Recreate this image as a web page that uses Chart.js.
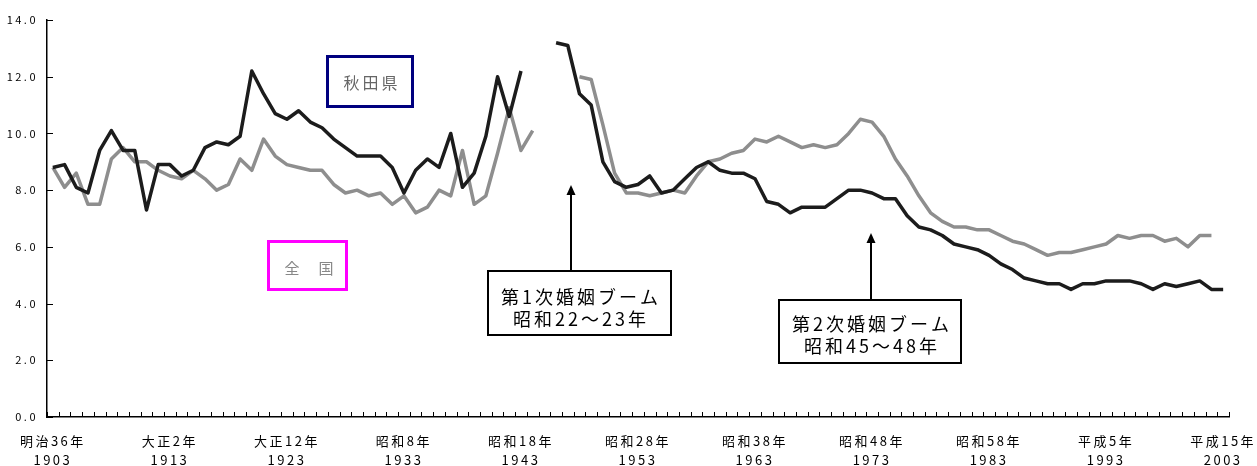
<!DOCTYPE html>
<html lang="ja">
<head>
<meta charset="utf-8">
<title>婚姻率の推移（秋田県・全国）</title>
<script src="https://cdn.jsdelivr.net/npm/chart.js"></script>
<style>
  html, body { margin: 0; padding: 0; background: #fff; }
  #wrap { width: 1257px; height: 466px; }
</style>
</head>
<body>
<div id="wrap"><canvas id="marriageChart" width="1257" height="466"></canvas></div>
<script>
// categories: one per year, 1903-2003
const firstYear = 1903;
const years = Array.from({ length: 101 }, (_, i) => String(firstYear + i));

// labelled ticks (every 10 years)
const tickYears = ['1903', '1913', '1923', '1933', '1943', '1953', '1963', '1973', '1983', '1993', '2003'];
const tickEras = ['明治36年', '大正2年', '大正12年', '昭和8年', '昭和18年', '昭和28年', '昭和38年', '昭和48年', '昭和58年', '平成5年', '平成15年'];

// 秋田県 (black line), 1903-2003
const akita = [
  8.8, 8.9, 8.1, 7.9, 9.4, 10.1, 9.4, 9.4, 7.3, 8.9,      // 1903-1912
  8.9, 8.5, 8.7, 9.5, 9.7, 9.6, 9.9, 12.2, 11.4, 10.7,    // 1913-1922
  10.5, 10.8, 10.4, 10.2, 9.8, 9.5, 9.2, 9.2, 9.2, 8.8,   // 1923-1932
  7.9, 8.7, 9.1, 8.8, 10.0, 8.1, 8.6, 9.9, 12.0, 10.6,    // 1933-1942
  12.2, null, null, 13.2, 13.1, 11.4, 11.0, 9.0, 8.3, 8.1, // 1943-1952
  8.2, 8.5, 7.9, 8.0, 8.4, 8.8, 9.0, 8.7, 8.6, 8.6,       // 1953-1962
  8.4, 7.6, 7.5, 7.2, 7.4, 7.4, 7.4, 7.7, 8.0, 8.0,       // 1963-1972
  7.9, 7.7, 7.7, 7.1, 6.7, 6.6, 6.4, 6.1, 6.0, 5.9,       // 1973-1982
  5.7, 5.4, 5.2, 4.9, 4.8, 4.7, 4.7, 4.5, 4.7, 4.7,       // 1983-1992
  4.8, 4.8, 4.8, 4.7, 4.5, 4.7, 4.6, 4.7, 4.8, 4.5,       // 1993-2002
  4.5                                                     // 2003
];

// 全国 (grey line), 1903-2003
const national = [
  8.8, 8.1, 8.6, 7.5, 7.5, 9.1, 9.5, 9.0, 9.0, 8.7,       // 1903-1912
  8.5, 8.4, 8.7, 8.4, 8.0, 8.2, 9.1, 8.7, 9.8, 9.2,       // 1913-1922
  8.9, 8.8, 8.7, 8.7, 8.2, 7.9, 8.0, 7.8, 7.9, 7.5,       // 1923-1932
  7.8, 7.2, 7.4, 8.0, 7.8, 9.4, 7.5, 7.8, 9.3, 10.9,      // 1933-1942
  9.4, 10.1, null, null, null, 12.0, 11.9, 10.3, 8.6, 7.9, // 1943-1952
  7.9, 7.8, 7.9, 8.0, 7.9, 8.5, 9.0, 9.1, 9.3, 9.4,       // 1953-1962
  9.8, 9.7, 9.9, 9.7, 9.5, 9.6, 9.5, 9.6, 10.0, 10.5,     // 1963-1972
  10.4, 9.9, 9.1, 8.5, 7.8, 7.2, 6.9, 6.7, 6.7, 6.6,      // 1973-1982
  6.6, 6.4, 6.2, 6.1, 5.9, 5.7, 5.8, 5.8, 5.9, 6.0,       // 1983-1992
  6.1, 6.4, 6.3, 6.4, 6.4, 6.2, 6.3, 6.0, 6.4, 6.4,       // 1993-2002
  null                                                    // 2003
];

const cjkFont = "'Noto Sans CJK JP', 'Noto Sans', sans-serif";

// text spacing so glyphs spread like the original
const spacingPlugin = {
  id: 'spacing',
  beforeDraw(chart) {
    chart.ctx.letterSpacing = '2.5px';
  }
};

// short tick marks pointing into the plot, like the original
const innerTicks = {
  id: 'innerTicks',
  afterDraw(chart) {
    const { ctx } = chart;
    const xs = chart.scales.x;
    const ys = chart.scales.y;
    const step = xs.getPixelForValue(1) - xs.getPixelForValue(0);
    ctx.save();
    ctx.strokeStyle = '#000';
    ctx.lineWidth = 1;
    ctx.beginPath();
    for (let i = 0; i <= years.length; i++) {
      const px = Math.round(xs.getPixelForValue(i) - step / 2) + 0.5;
      ctx.moveTo(px, xs.top);
      ctx.lineTo(px, xs.top - 5);
    }
    ys.ticks.forEach(t => {
      const py = Math.round(ys.getPixelForValue(t.value)) + 0.5;
      ctx.moveTo(ys.right, py);
      ctx.lineTo(ys.right + 6, py);
    });
    ctx.stroke();
    ctx.restore();
  }
};

function drawArrow(ctx, x, yFrom, yTo) {
  ctx.beginPath();
  ctx.moveTo(x, yFrom);
  ctx.lineTo(x, yTo + 8);
  ctx.lineWidth = 2;
  ctx.strokeStyle = '#000';
  ctx.stroke();
  ctx.beginPath();
  ctx.moveTo(x, yTo);
  ctx.lineTo(x - 4.5, yTo + 10);
  ctx.lineTo(x + 4.5, yTo + 10);
  ctx.closePath();
  ctx.fillStyle = '#000';
  ctx.fill();
}

function boxedText(ctx, box, lines, opts) {
  ctx.fillStyle = '#fff';
  ctx.fillRect(box.x, box.y, box.w, box.h);
  ctx.lineWidth = opts.border;
  ctx.strokeStyle = opts.borderColor;
  const h = opts.border / 2;
  ctx.strokeRect(box.x + h, box.y + h, box.w - opts.border, box.h - opts.border);
  ctx.fillStyle = opts.color;
  ctx.font = opts.font;
  ctx.letterSpacing = opts.spacing;
  ctx.textAlign = 'center';
  ctx.textBaseline = 'middle';
  lines.forEach((t, i) => ctx.fillText(t, box.cx, box.cy + i * opts.lineGap));
}

// series labels and the two marriage boom notes
const notes = {
  id: 'notes',
  afterDraw(chart) {
    const { ctx } = chart;
    ctx.save();
    boxedText(ctx, { x: 326, y: 55, w: 88, h: 53, cx: 372, cy: 83 }, ['秋田県'],
      { border: 3, borderColor: '#00007f', color: '#666', font: '16px ' + cjkFont, spacing: '3px', lineGap: 0 });
    boxedText(ctx, { x: 267, y: 240, w: 81, h: 51, cx: 310, cy: 268 }, ['全　国'],
      { border: 3, borderColor: '#ff00ff', color: '#888', font: '15px ' + cjkFont, spacing: '2px', lineGap: 0 });

    drawArrow(ctx, 571, 270, 185);
    boxedText(ctx, { x: 487, y: 270, w: 185, h: 66, cx: 581, cy: 297 }, ['第1次婚姻ブーム', '昭和22～23年'],
      { border: 2, borderColor: '#000', color: '#000', font: '18px ' + cjkFont, spacing: '3px', lineGap: 22.5 });

    drawArrow(ctx, 871, 299, 233);
    boxedText(ctx, { x: 778, y: 299, w: 184, h: 65, cx: 872, cy: 324 }, ['第2次婚姻ブーム', '昭和45～48年'],
      { border: 2, borderColor: '#000', color: '#000', font: '18px ' + cjkFont, spacing: '3px', lineGap: 22.5 });
    ctx.restore();
  }
};

const ctx = document.getElementById('marriageChart').getContext('2d');
new Chart(ctx, {
  type: 'line',
  data: {
    labels: years,
    datasets: [
      {
        label: '秋田県',
        data: akita,
        borderColor: '#1c1c1c',
        borderWidth: 3.5,
        pointRadius: 0,
        tension: 0,
        spanGaps: false,
        borderJoinStyle: 'round'
      },
      {
        label: '全国',
        data: national,
        borderColor: '#8e8e8e',
        borderWidth: 3.5,
        pointRadius: 0,
        tension: 0,
        spanGaps: false,
        borderJoinStyle: 'round'
      }
    ]
  },
  options: {
    responsive: false,
    animation: false,
    events: [],
    layout: { padding: { top: 20, right: 28, left: 0, bottom: 0 } },
    plugins: {
      legend: { display: false },
      tooltip: { enabled: false }
    },
    scales: {
      x: {
        offset: true,
        grid: { display: true, drawOnChartArea: false, drawTicks: false, offset: true },
        border: { display: true, color: '#000', width: 1.5 },
        ticks: {
          autoSkip: false,
          maxRotation: 0,
          padding: 14,
          color: '#000',
          font: { family: cjkFont, size: 13, lineHeight: 1.5 },
          callback: function (value, index) {
            const k = tickYears.indexOf(years[index]);
            return k >= 0 ? [tickEras[k], tickYears[k]] : '';
          }
        },
        afterFit(scale) {
          scale.height = 49;
          scale.paddingLeft = 0;
          scale.paddingRight = 0;
        }
      },
      y: {
        min: 0,
        max: 14,
        grid: { display: true, drawOnChartArea: false, drawTicks: false },
        border: { display: true, color: '#000', width: 1.5 },
        ticks: {
          stepSize: 2,
          padding: 9,
          color: '#000',
          font: { family: cjkFont, size: 11 },
          callback: v => v.toFixed(1)
        },
        afterFit(scale) {
          scale.width = 47;
          scale.paddingTop = 0;
          scale.paddingBottom = 0;
        }
      }
    }
  },
  plugins: [spacingPlugin, innerTicks, notes]
});
</script>
</body>
</html>
